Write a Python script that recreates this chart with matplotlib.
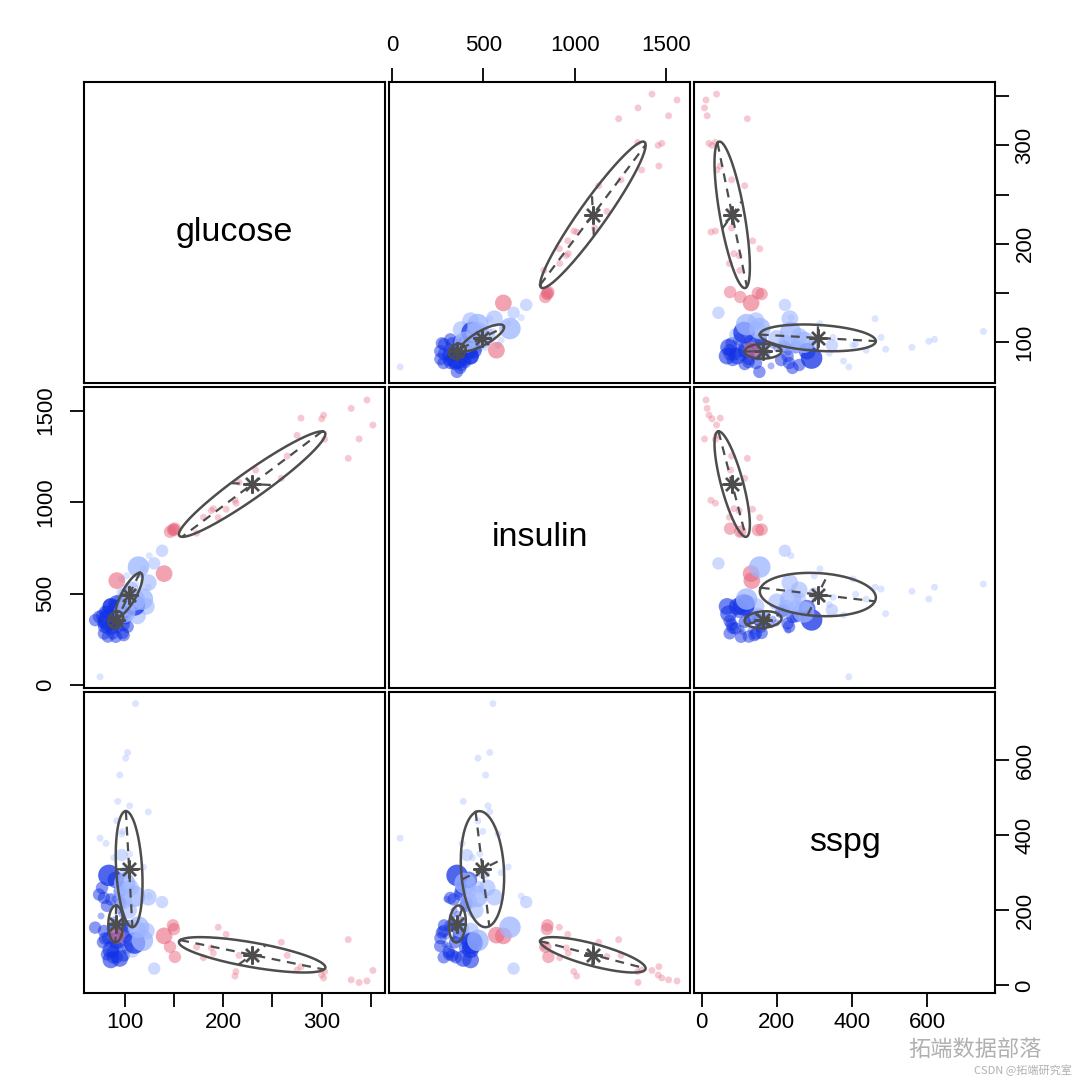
import numpy as np
import matplotlib
matplotlib.use("Agg")
import matplotlib.pyplot as plt

plt.rcParams['font.family'] = ['Liberation Sans', 'DejaVu Sans']

variables = ["glucose", "insulin", "sspg"]

# ---- Normal cluster (dark blue) ----
normal_glucose = [84, 91, 77, 74, 79, 86, 82, 76, 70, 79, 88, 89, 93, 99, 103, 110, 84, 91, 96, 103,
                  82, 88, 92, 95, 99, 86, 92, 97, 90, 94, 87, 100, 80, 85, 96, 90, 98, 83, 78, 93,
                  101, 88, 95, 86]
normal_insulin = [356, 420, 380, 373, 319, 337, 400, 330, 355, 282, 360, 337, 300, 273, 319, 438, 291, 264, 310, 400,
                  313, 283, 350, 390, 330, 428, 446, 360, 380, 340, 320, 370, 400, 350, 410, 300, 285, 265, 345, 395,
                  365, 310, 375, 430]
normal_sspg = [293, 281, 260, 242, 233, 229, 212, 185, 154, 145, 150, 168, 132, 141, 158, 113, 109, 105, 105, 100,
               83, 75, 75, 72, 80, 95, 120, 190, 175, 200, 160, 165, 125, 135, 220, 230, 160, 126, 115, 145,
               130, 90, 250, 68]
normal_unc = [4, 3, 2, 2, 2, 2, 2, 1, 2, 2, 2, 1, 1, 2, 2, 4, 1, 2, 1, 2,
              2, 2, 2, 3, 2, 3, 3, 1, 1, 1, 1, 1, 2, 1, 2, 1, 2, 2, 2, 1,
              2, 2, 2, 3]

# ---- Chemical cluster (light blue) ----
chem_glucose = [111, 103, 101, 95, 93, 105, 124, 119, 124, 138, 130, 75, 81, 125, 114, 102, 113, 122, 96, 100,
                105, 98, 92, 110, 100, 97, 99, 118, 108, 95, 104, 89, 97, 106]
chem_insulin = [552, 535, 470, 512, 390, 525, 535, 635, 560, 734, 665, 45, 383, 707, 645, 597, 378, 430, 470, 500,
                480, 496, 470, 465, 400, 410, 420, 470, 440, 430, 455, 440, 580, 520]
chem_sspg = [750, 620, 605, 560, 490, 478, 462, 315, 235, 222, 45, 392, 378, 238, 155, 300, 150, 145, 262, 300,
             350, 410, 438, 237, 272, 347, 225, 120, 90, 250, 200, 340, 403, 260]
chem_unc = [1, 1, 1, 1, 1, 1, 1, 1, 3, 2, 2, 1, 1, 1, 4, 1, 3, 3, 2, 2,
            1, 1, 1, 4, 4, 2, 3, 4, 2, 2, 3, 1, 1, 3]

# ---- Overt cluster (pink) ----
overt_glucose = [352, 346, 338, 330, 327, 302, 300, 303, 279, 275, 265, 259, 233, 216, 213, 212, 203, 195, 190, 188,
                 180, 173, 150, 146, 151, 149, 140, 92]
overt_insulin = [1421, 1558, 1345, 1512, 1239, 1475, 1455, 1343, 1459, 1365, 1252, 1130, 1175, 1108, 994, 1010, 961, 915, 964, 953,
                 917, 830, 847, 838, 855, 850, 609, 571]
overt_sspg = [40, 12, 8, 15, 122, 20, 28, 37, 50, 41, 80, 115, 77, 80, 37, 25, 136, 155, 86, 100,
              74, 102, 150, 103, 76, 160, 132, 134]
overt_unc = [1, 1, 1, 1, 1, 1, 1, 1, 1, 1, 1, 1, 1, 1, 1, 1, 1, 1, 1, 1,
             1, 1, 2, 2, 2, 2, 3, 3]

# ---- fitted Gaussian components (means, covariances) ----
cluster_names = ["Normal", "Chemical", "Overt"]
mean_normal = [90.96, 357.79, 163.75]
mean_chemical = [104.53, 494.83, 309.56]
mean_overt = [229.42, 1098.26, 81.60]
cov_normal = [[57.18, 75.83, 14.73],
              [75.83, 2101.77, 322.11],
              [14.73, 322.11, 2416.99]]
cov_chemical = [[185.03, 1282.34, -509.73],
                [1282.34, 14039.28, -2559.03],
                [-509.73, -2559.03, 23835.73]]
cov_overt = [[5529.25, 20389.09, -2486.21],
             [20389.09, 83132.48, -10393.00],
             [-2486.21, -10393.00, 2217.53]]

# axis ticks
glucose_ticks = [100, 150, 200, 250, 300, 350]
glucose_labels = ["100", "", "200", "", "300", ""]
insulin_ticks = [0, 500, 1000, 1500]
insulin_labels = ["0", "500", "1000", "1500"]
sspg_ticks = [0, 200, 400, 600]
sspg_labels = ["0", "200", "400", "600"]

# ------------------------------------------------------------------
data = {
    "Normal": (np.array([normal_glucose, normal_insulin, normal_sspg], float), np.array(normal_unc)),
    "Chemical": (np.array([chem_glucose, chem_insulin, chem_sspg], float), np.array(chem_unc)),
    "Overt": (np.array([overt_glucose, overt_insulin, overt_sspg], float), np.array(overt_unc)),
}
params = {
    "Normal": (np.array(mean_normal), np.array(cov_normal)),
    "Chemical": (np.array(mean_chemical), np.array(cov_chemical)),
    "Overt": (np.array(mean_overt), np.array(cov_overt)),
}
base_colors = {"Normal": "#1232e6", "Chemical": "#9db5ff", "Overt": "#e8667f"}
size_map = {1: 25, 2: 80, 3: 145, 4: 240}
alpha_map = {1: 0.35, 2: 0.5, 3: 0.6, 4: 0.75}

limits = [(58.7, 364.3), (-16, 1629), (-20, 781)]
ticks = [(glucose_ticks, glucose_labels), (insulin_ticks, insulin_labels), (sspg_ticks, sspg_labels)]

ELL = "#4d4d4d"

fig = plt.figure(figsize=(10.8, 10.8), dpi=100)
W = 1080.0
lefts = [84, 389, 694]
tops = [82, 387, 692]
size = 301


def mvn2plot(ax, mu, sigma):
    vals, vecs = np.linalg.eigh(sigma)
    order = np.argsort(vals)[::-1]
    s = np.sqrt(vals[order])
    V = vecs[:, order].T
    th = np.linspace(0, 2 * np.pi, 240)
    xy = np.column_stack([s[0] * np.cos(th), s[1] * np.sin(th)]) @ V + mu
    ax.plot(xy[:, 0], xy[:, 1], color=ELL, lw=1.8, zorder=5)
    ax_pts = np.array([[s[0], 0], [-s[0], 0], [0, s[1]], [0, -s[1]]]) @ V + mu
    ax.plot(ax_pts[:2, 0], ax_pts[:2, 1], color=ELL, lw=1.6, ls=(0, (4, 3)), zorder=5)
    ax.plot(ax_pts[2:, 0], ax_pts[2:, 1], color=ELL, lw=1.6, ls=(0, (4, 3)), zorder=5)
    ax.plot([mu[0]], [mu[1]], marker=(8, 2, 0), ms=13, mew=1.7, color=ELL, zorder=6, ls='none')


for r in range(3):
    for c in range(3):
        ax = fig.add_axes([lefts[c] / W, 1 - (tops[r] + size) / W, size / W, size / W])
        ax.set_xlim(*limits[c])
        ax.set_ylim(*limits[r])
        for sp in ax.spines.values():
            sp.set_linewidth(1.5)
        ax.tick_params(axis='both', which='both', bottom=False, top=False, left=False, right=False,
                       labelbottom=False, labeltop=False, labelleft=False, labelright=False)
        if r == c:
            ax.text(0.5, 0.5, variables[r], transform=ax.transAxes, ha='center', va='center', fontsize=24.5)
        else:
            for name in ["Normal", "Chemical", "Overt"]:
                X, unc = data[name]
                for k in [1, 2, 3, 4]:
                    m = unc == k
                    if m.any():
                        ax.scatter(X[c][m], X[r][m], s=size_map[k], color=base_colors[name],
                                   alpha=alpha_map[k], edgecolors='none', zorder=2 + k * 0.1)
            for name in cluster_names:
                mu, S = params[name]
                idx = [c, r]
                mvn2plot(ax, mu[idx], S[np.ix_(idx, idx)])
        # axes, R pairs style
        tx, tl = ticks[c]
        ty, tyl = ticks[r]
        if r == 0 and c % 2 == 1:
            ax.set_xticks(tx, tl)
            ax.tick_params(axis='x', top=True, labeltop=True, length=10, width=1.3, pad=9, labelsize=16)
        if r == 2 and c % 2 == 0:
            ax.set_xticks(tx, tl)
            ax.tick_params(axis='x', bottom=True, labelbottom=True, length=10, width=1.3, pad=4, labelsize=16)
        if c == 0 and r % 2 == 1:
            ax.set_yticks(ty, tyl)
            ax.tick_params(axis='y', left=True, labelleft=True, length=10, width=1.3, pad=10, labelsize=16,
                           labelrotation=90)
            for lab in ax.get_yticklabels():
                lab.set_va('center')
        if c == 2 and r % 2 == 0:
            ax.set_yticks(ty, tyl)
            ax.tick_params(axis='y', right=True, labelright=True, length=10, width=1.3, pad=4, labelsize=16,
                           labelrotation=90)
            for lab in ax.get_yticklabels():
                lab.set_va('center')
        ax.set_xlim(*limits[c])
        ax.set_ylim(*limits[r])

# watermark text
fig.text(975 / W, 1 - 1049 / W, "拓端数据部落", ha='center', va='center', fontsize=16, color='#b0b0b0',
         family=['Noto Sans CJK SC', 'DejaVu Sans'])
fig.text(1072 / W, 1 - 1070 / W, "CSDN @拓端研究室", ha='right', va='center', fontsize=8, color='#b0b0b0',
         family=['Noto Sans CJK SC', 'DejaVu Sans'])

fig.savefig("out.png", dpi=100)
